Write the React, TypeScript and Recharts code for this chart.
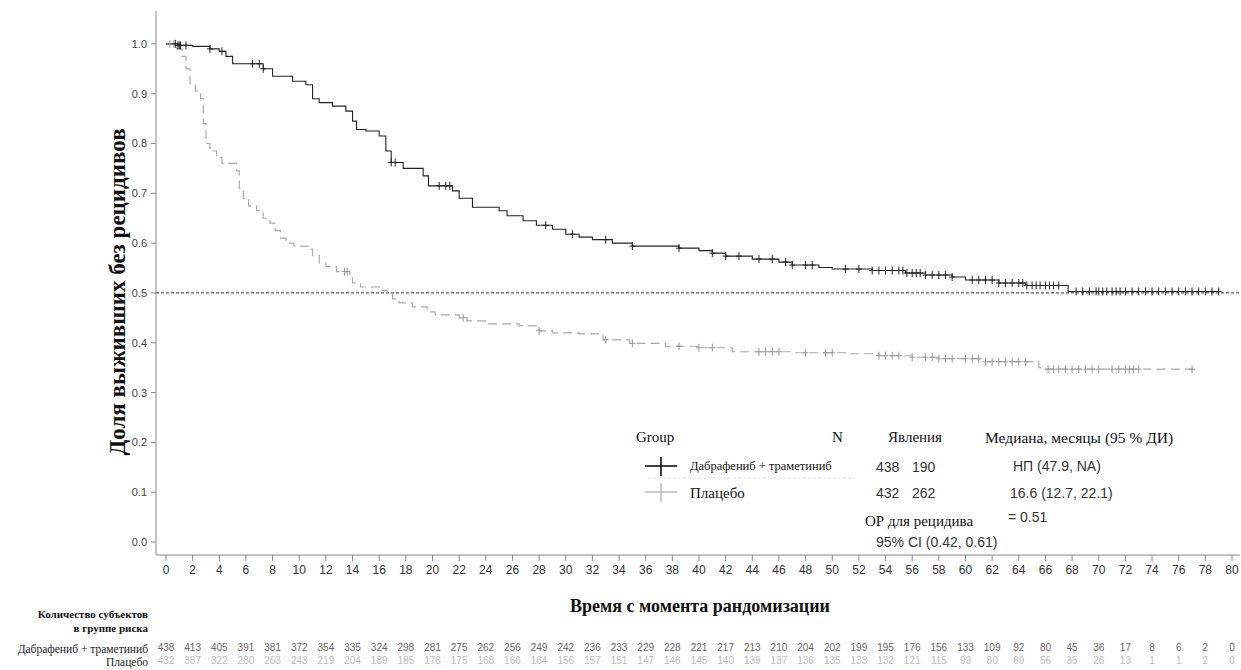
import React from 'react';
import { ComposedChart, Line, Scatter, XAxis, YAxis, ReferenceLine } from 'recharts';

// ---- Kaplan–Meier step data (time in months, survival proportion) ----
const dabTimes = [0, 0.9, 2.0, 3.3, 4.0, 4.5, 5.0, 7.3, 8.0, 9.5, 10.5, 11.0, 11.5, 12.5, 13.5, 14.0, 14.3, 15.0, 16.0, 16.5, 16.9, 17.8, 19.3, 19.7, 21.5, 22.0, 23.0, 25.0, 25.6, 26.8, 27.8, 29.0, 30.0, 31.0, 32.0, 33.5, 35.0, 38.5, 40.0, 41.0, 42.0, 44.0, 46.0, 47.0, 49.0, 50.0, 53.0, 55.5, 57.0, 59.0, 60.0, 62.5, 64.5, 67.7, 79.0];
const dabSurv = [1.0, 0.997, 0.995, 0.99, 0.985, 0.975, 0.96, 0.95, 0.935, 0.925, 0.918, 0.89, 0.882, 0.875, 0.865, 0.845, 0.828, 0.825, 0.815, 0.785, 0.762, 0.75, 0.735, 0.715, 0.705, 0.69, 0.672, 0.665, 0.655, 0.645, 0.636, 0.628, 0.618, 0.612, 0.607, 0.6, 0.594, 0.59, 0.585, 0.58, 0.574, 0.568, 0.562, 0.556, 0.551, 0.548, 0.545, 0.54, 0.536, 0.532, 0.526, 0.52, 0.515, 0.503, 0.503];
const dabCensor = [0.7, 0.9, 1.0, 1.1, 1.5, 3.3, 4.2, 6.5, 7.0, 7.3, 16.9, 17.2, 20.5, 21.0, 21.3, 28.5, 30.5, 33.0, 35.0, 38.5, 41.0, 42.0, 43.0, 44.5, 45.5, 46.5, 47.0, 48.0, 48.5, 51.0, 52.0, 53.0, 53.5, 54.0, 54.5, 55.0, 55.3, 55.6, 56.0, 56.3, 56.6, 57.0, 57.5, 58.0, 58.5, 59.0, 60.5, 61.0, 61.5, 62.0, 62.5, 63.0, 63.5, 64.0, 64.3, 64.6, 65.0, 65.3, 65.6, 66.0, 66.3, 66.6, 67.0, 68.3, 68.8, 69.3, 69.8, 70.0, 70.3, 70.6, 71.0, 71.3, 71.6, 72.0, 72.5, 73.0, 73.5, 74.0, 74.5, 75.0, 75.5, 76.0, 76.5, 77.0, 77.5, 78.0, 78.5, 79.0];

const plaTimes = [0, 0.8, 1.2, 1.5, 1.8, 2.2, 2.6, 2.8, 3.0, 3.3, 3.8, 4.2, 5.3, 5.5, 5.8, 6.2, 6.8, 7.3, 7.8, 8.2, 8.6, 9.0, 9.6, 10.8, 11.0, 11.5, 12.0, 12.8, 13.8, 14.0, 14.6, 16.0, 16.6, 17.0, 17.5, 18.5, 19.6, 20.2, 22.0, 22.6, 24.2, 26.5, 28.0, 29.0, 31.0, 32.8, 34.8, 37.5, 40.0, 42.5, 47.0, 51.0, 53.5, 56.0, 58.0, 61.5, 65.5, 66.0, 77.2];
const plaSurv = [1.0, 0.99, 0.975, 0.95, 0.92, 0.905, 0.89, 0.84, 0.8, 0.785, 0.772, 0.76, 0.745, 0.71, 0.69, 0.675, 0.665, 0.65, 0.64, 0.625, 0.61, 0.6, 0.594, 0.588, 0.575, 0.56, 0.553, 0.543, 0.535, 0.52, 0.512, 0.505, 0.498, 0.488, 0.48, 0.472, 0.462, 0.456, 0.45, 0.444, 0.438, 0.434, 0.424, 0.42, 0.418, 0.406, 0.399, 0.393, 0.39, 0.382, 0.38, 0.378, 0.374, 0.371, 0.368, 0.362, 0.35, 0.347, 0.347];
const plaCensor = [0.3, 0.6, 13.4, 13.6, 22.3, 28.0, 33.0, 35.0, 38.5, 40.0, 41.0, 44.5, 45.0, 45.5, 46.0, 48.0, 49.5, 50.0, 53.5, 54.0, 54.5, 55.0, 56.0, 57.0, 57.5, 58.0, 58.5, 59.0, 60.0, 60.5, 61.0, 61.5, 62.0, 62.5, 63.0, 63.5, 64.0, 64.5, 66.2, 66.6, 67.0, 67.5, 68.0, 68.5, 69.0, 69.5, 70.0, 71.0, 71.5, 72.0, 72.3, 72.6, 73.0, 77.0];

// ---- Axis ticks ----
const xTicks = [0, 2, 4, 6, 8, 10, 12, 14, 16, 18, 20, 22, 24, 26, 28, 30, 32, 34, 36, 38, 40, 42, 44, 46, 48, 50, 52, 54, 56, 58, 60, 62, 64, 66, 68, 70, 72, 74, 76, 78, 80];
const yTicks = [0, 0.1, 0.2, 0.3, 0.4, 0.5, 0.6, 0.7, 0.8, 0.9, 1.0];

// ---- Number at risk ----
const dabRisk = [438, 413, 405, 391, 381, 372, 354, 335, 324, 298, 281, 275, 262, 256, 249, 242, 236, 233, 229, 228, 221, 217, 213, 210, 204, 202, 199, 195, 176, 156, 133, 109, 92, 80, 45, 36, 17, 8, 6, 2, 0];
const plaRisk = [432, 387, 322, 280, 263, 243, 219, 204, 189, 185, 178, 175, 168, 166, 164, 156, 157, 151, 147, 146, 145, 140, 139, 137, 136, 135, 133, 132, 121, 115, 99, 80, 69, 56, 35, 26, 13, 1, 1, 2, 0];

const dabData = dabTimes.map((t, i) => ({ t, s: dabSurv[i] }));
const plaData = plaTimes.map((t, i) => ({ t, s: plaSurv[i] }));
function stepAt(times: number[], surv: number[], t: number) {
  let v = surv[0];
  for (let i = 0; i < times.length; i++) if (times[i] <= t) v = surv[i];
  return v;
}
const dabCensorData = dabCensor.map((t) => ({ t, s: stepAt(dabTimes, dabSurv, t) }));
const plaCensorData = plaCensor.map((t) => ({ t, s: stepAt(plaTimes, plaSurv, t) }));

const SANS = '"Liberation Sans", Arial, sans-serif';
const SERIF = '"Liberation Serif", "Times New Roman", serif';

const makeCross = (color: string, w: number) => (p: any) => (
  <g>
    <line x1={p.cx - 3} x2={p.cx + 3} y1={p.cy} y2={p.cy} stroke={color} strokeWidth={w} />
    <line x1={p.cx} x2={p.cx} y1={p.cy - 4} y2={p.cy + 4} stroke={color} strokeWidth={w} />
  </g>
);

export default function App() {
  return (
    <div style={{ position: 'absolute', left: 0, top: 0, width: 1241, height: 670, background: '#fff' }}>
      <ComposedChart width={1241} height={670} margin={{ top: 11, right: 1, bottom: 0, left: 0 }}>
        <XAxis xAxisId="main" type="number" dataKey="t" domain={[-0.75, 80.6]} ticks={xTicks} interval={0}
          allowDataOverflow height={89} tickSize={6} tickMargin={4} stroke="#888"
          tick={{ fontSize: 12, fill: '#333', fontFamily: SANS }} />
        <XAxis xAxisId="r1" type="number" dataKey="t" domain={[-0.75, 80.6]} ticks={xTicks} interval={0}
          allowDataOverflow height={13} axisLine={false} tickLine={false} tickSize={0} tickMargin={0}
          tickFormatter={(v: number) => String(dabRisk[Math.round(v / 2)])}
          tick={{ fontSize: 10, fill: '#666', fontFamily: SANS }} />
        <XAxis xAxisId="r2" type="number" dataKey="t" domain={[-0.75, 80.6]} ticks={xTicks} interval={0}
          allowDataOverflow height={13} axisLine={false} tickLine={false} tickSize={0} tickMargin={0}
          tickFormatter={(v: number) => String(plaRisk[Math.round(v / 2)])}
          tick={{ fontSize: 10, fill: '#bbb', fontFamily: SANS }} />
        <XAxis xAxisId="top" orientation="top" type="number" domain={[0, 1]} height={0} tick={false}
          tickLine={false} stroke="#aaa" strokeWidth={2} />
        <YAxis yAxisId="main" type="number" domain={[-0.026, 1.066]} ticks={yTicks} interval={0}
          allowDataOverflow width={156} tickSize={5} tickMargin={4} stroke="#888"
          tickFormatter={(v: number) => v.toFixed(1)}
          tick={{ fontSize: 11, fill: '#444', fontFamily: SANS }} />
        <YAxis yAxisId="right" orientation="right" type="number" domain={[0, 1]} width={0} tick={false}
          tickLine={false} stroke="#e4e4e4" />

        <ReferenceLine xAxisId="main" yAxisId="main" y={0.5} stroke="#555" strokeWidth={1.3} strokeDasharray="3 2" />

        <Line xAxisId="main" yAxisId="main" data={plaData} dataKey="s" type="stepAfter" stroke="#aaa"
          strokeWidth={1.2} strokeDasharray="9 5" dot={false} isAnimationActive={false} />
        <Line xAxisId="main" yAxisId="main" data={dabData} dataKey="s" type="stepAfter" stroke="#222"
          strokeWidth={1.1} dot={false} isAnimationActive={false} />
        <Scatter xAxisId="main" yAxisId="main" data={plaCensorData} dataKey="s" shape={makeCross('#999', 1)}
          isAnimationActive={false} />
        <Scatter xAxisId="main" yAxisId="main" data={dabCensorData} dataKey="s" shape={makeCross('#222', 1)}
          isAnimationActive={false} />
      </ComposedChart>

      <svg width={1241} height={670} style={{ position: 'absolute', left: 0, top: 0, pointerEvents: 'none' }}>
        {/* Axis titles */}
        <text x={117} y={292} transform="rotate(-90 117 292)" textAnchor="middle" dominantBaseline="central"
          fontFamily={SERIF} fontWeight="bold" fontSize={23} fill="#111">Доля выживших без рецидивов</text>
        <text x={700} y={606} textAnchor="middle" dominantBaseline="central"
          fontFamily={SERIF} fontWeight="bold" fontSize={18} fill="#111">Время с момента рандомизации</text>

        {/* At-risk labels */}
        <text x={148} y={614} textAnchor="end" dominantBaseline="central" fontFamily={SERIF} fontWeight="bold" fontSize={11} fill="#111">Количество субъектов</text>
        <text x={148} y={628} textAnchor="end" dominantBaseline="central" fontFamily={SERIF} fontWeight="bold" fontSize={11} fill="#111">в группе риска</text>
        <text x={148} y={649} textAnchor="end" dominantBaseline="central" fontFamily={SERIF} fontSize={11.5} fill="#222">Дабрафениб + траметиниб</text>
        <text x={148} y={662} textAnchor="end" dominantBaseline="central" fontFamily={SERIF} fontSize={11.5} fill="#222">Плацебо</text>

        {/* Legend / statistics box */}
        <text x={636} y={437} dominantBaseline="central" fontFamily={SERIF} fontSize={15} fill="#111">Group</text>
        <text x={832} y={437} dominantBaseline="central" fontFamily={SERIF} fontSize={15} fill="#111">N</text>
        <text x={888} y={437} dominantBaseline="central" fontFamily={SERIF} fontSize={15} fill="#111">Явления</text>
        <text x={985} y={437} dominantBaseline="central" fontFamily={SERIF} fontSize={15.5} fill="#111">Медиана, месяцы (95 % ДИ)</text>

        <line x1={645} x2={677} y1={466} y2={466} stroke="#111" strokeWidth={1.6} />
        <line x1={661} x2={661} y1={457} y2={476} stroke="#111" strokeWidth={1.6} />
        <line x1={648} x2={855} y1={478} y2={478} stroke="#ddd" strokeWidth={1} strokeDasharray="3 2" />
        <text x={690} y={466} dominantBaseline="central" fontFamily={SERIF} fontSize={12.5} fill="#111">Дабрафениб + траметиниб</text>
        <text x={876} y={467} dominantBaseline="central" fontFamily={SANS} fontSize={14} fill="#333">438</text>
        <text x={912} y={467} dominantBaseline="central" fontFamily={SANS} fontSize={14} fill="#333">190</text>
        <text x={1013} y={466} dominantBaseline="central" fontFamily={SANS} fontSize={14} fill="#333">НП (47.9, NA)</text>

        <line x1={645} x2={677} y1={492} y2={492} stroke="#999" strokeWidth={1} />
        <line x1={661} x2={661} y1={483} y2={502} stroke="#999" strokeWidth={1} />
        <text x={690} y={493} dominantBaseline="central" fontFamily={SERIF} fontSize={15} fill="#111">Плацебо</text>
        <text x={876} y={493} dominantBaseline="central" fontFamily={SANS} fontSize={14} fill="#333">432</text>
        <text x={912} y={493} dominantBaseline="central" fontFamily={SANS} fontSize={14} fill="#333">262</text>
        <text x={1010} y={493} dominantBaseline="central" fontFamily={SANS} fontSize={14} fill="#333">16.6 (12.7, 22.1)</text>

        <text x={865} y={521} dominantBaseline="central" fontFamily={SERIF} fontSize={15} fill="#111">ОР для рецидива</text>
        <text x={1008} y={517} dominantBaseline="central" fontFamily={SANS} fontSize={14} fill="#333">= 0.51</text>
        <text x={876} y={542} dominantBaseline="central" fontFamily={SANS} fontSize={14} fill="#333">95% CI (0.42, 0.61)</text>
      </svg>
    </div>
  );
}
